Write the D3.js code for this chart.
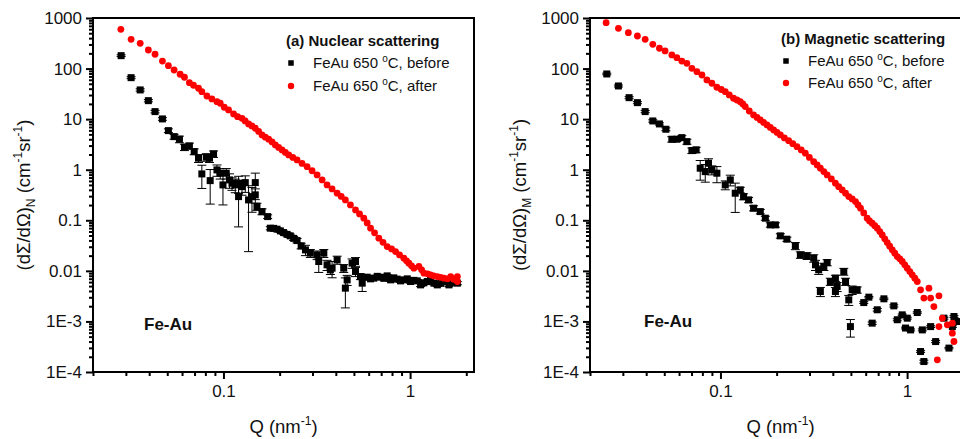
<!DOCTYPE html>
<html>
<head>
<meta charset="utf-8">
<script src="https://cdn.jsdelivr.net/npm/d3@7"></script>
<style>
  body { margin: 0; background: #fff; }
  svg { display: block; font-family: Arial, "Liberation Sans", sans-serif; }
</style>
</head>
<body>
<svg id="chart" width="960" height="439"></svg>
<script>
// tick labels
const yTickValues = [1e-4, 1e-3, 0.01, 0.1, 1, 10, 100, 1000];
const yTickLabels = ["1E-4", "1E-3", "0.01", "0.1", "1", "10", "100", "1000"];
const xTickValues = [0.1, 1];
const xTickLabels = ["0.1", "1"];

// [Q (nm^-1), dΣ/dΩ (cm^-1 sr^-1), error]
const nuclearBefore = [
  [0.0283, 180, 7], [0.0320, 66.1, 3], [0.0358, 37.8, 2], [0.0396, 23.2, 1.2],
  [0.0430, 14.1, 0.8], [0.0471, 10.1, 0.6], [0.0507, 5.93, 0.5], [0.0544, 4.51, 0.5],
  [0.0581, 4.01, 0.6], [0.0618, 2.79, 0.4], [0.0657, 2.95, 0.4], [0.0697, 2.28, 0.3],
  [0.0735, 1.69, 0.3], [0.0766, 0.826, 0.4], [0.0809, 1.77, 0.3], [0.0842, 1.69, 0.3],
  [0.0849, 0.609, 0.4], [0.0885, 2.05, 0.3], [0.0923, 0.991, 0.25], [0.0961, 0.853, 0.2],
  [0.0994, 0.501, 0.3], [0.1035, 0.853, 0.2], [0.1078, 0.629, 0.2], [0.1111, 0.541, 0.15],
  [0.1157, 0.501, 0.15], [0.1205, 0.541, 0.2], [0.1205, 0.294, 0.22], [0.1257, 0.463, 0.15],
  [0.1309, 0.556, 0.2], [0.1363, 0.253, 0.229], [0.1422, 0.294, 0.15], [0.1481, 0.556, 0.3],
  [0.1481, 0.318, 0.1], [0.1512, 0.187, 0.03], [0.1609, 0.1486, 0.02], [0.1725, 0.1183, 0.01],
  [0.1783, 0.0698, 0.005], [0.1857, 0.0692, 0.004], [0.1937, 0.0667, 0.004], [0.2018, 0.0617, 0.004],
  [0.210, 0.0571, 0.004], [0.2193, 0.0526, 0.004], [0.228, 0.0492, 0.004], [0.2378, 0.0439, 0.004],
  [0.248, 0.0397, 0.004], [0.2608, 0.0312, 0.004], [0.275, 0.0260, 0.006], [0.292, 0.0224, 0.004],
  [0.3175, 0.0207, 0.004], [0.345, 0.0224, 0.004], [0.324, 0.0153, 0.006], [0.359, 0.01315, 0.003],
  [0.382, 0.0113, 0.004], [0.4065, 0.0165, 0.003], [0.374, 0.01047, 0.002], [0.441, 0.0113, 0.002],
  [0.460, 0.00664, 0.0015], [0.450, 0.00455, 0.0027], [0.489, 0.0142, 0.003], [0.510, 0.0153, 0.003],
  [0.510, 0.0097, 0.002], [0.542, 0.00771, 0.001], [0.554, 0.00571, 0.0018], [0.589, 0.0075, 0.0005],
  [0.614, 0.00695, 0.0004], [0.639, 0.00718, 0.0004], [0.667, 0.00779, 0.0004], [0.694, 0.0075, 0.0004],
  [0.723, 0.00711, 0.0004], [0.754, 0.00796, 0.0004], [0.786, 0.00664, 0.0004], [0.818, 0.00727, 0.0004],
  [0.853, 0.00686, 0.0004], [0.889, 0.00634, 0.0004], [0.926, 0.00664, 0.0004], [0.966, 0.00695, 0.0004],
  [1.006, 0.00615, 0.0004], [1.048, 0.00649, 0.0004], [1.093, 0.00634, 0.0004], [1.138, 0.00528, 0.0004],
  [1.186, 0.00579, 0.0004], [1.236, 0.00615, 0.0004], [1.288, 0.00664, 0.0004], [1.342, 0.00571, 0.0004],
  [1.40, 0.00528, 0.0004], [1.458, 0.00566, 0.0004], [1.519, 0.00615, 0.0004], [1.615, 0.00528, 0.0004],
  [1.684, 0.00606, 0.0004], [1.718, 0.00587, 0.0004], [1.792, 0.00571, 0.0004]
];

const nuclearAfter = [
  [0.0282, 598], [0.0320, 379], [0.0358, 316], [0.0396, 233], [0.0430, 192], [0.0471, 141],
  [0.0507, 114], [0.0544, 93.8], [0.0586, 77.2], [0.0618, 67.3], [0.0657, 52.6], [0.0691, 46.8],
  [0.0735, 40.8], [0.0766, 35.0], [0.0815, 28.7], [0.0867, 25.1], [0.0923, 22.2], [0.0961, 20.6],
  [0.1010, 17.2], [0.1065, 15.2], [0.1133, 12.7], [0.1190, 11.2], [0.1257, 10.4], [0.1307, 9.21],
  [0.1363, 8.04], [0.1420, 7.34], [0.1481, 6.61], [0.1543, 5.71], [0.1609, 4.87], [0.1676, 4.39],
  [0.1746, 4.01], [0.1821, 3.54], [0.1897, 3.09], [0.1975, 2.76], [0.206, 2.46], [0.2146, 2.20],
  [0.2236, 1.96], [0.2354, 1.75], [0.248, 1.56], [0.2638, 1.332], [0.2806, 1.15], [0.2985, 0.955],
  [0.3175, 0.789], [0.3378, 0.629], [0.359, 0.50], [0.382, 0.4175], [0.4065, 0.343], [0.4276, 0.2967],
  [0.450, 0.253], [0.479, 0.2015], [0.510, 0.1605], [0.536, 0.1338], [0.565, 0.110], [0.589, 0.0888],
  [0.614, 0.0698], [0.645, 0.0564], [0.680, 0.0443], [0.716, 0.0366], [0.754, 0.0302], [0.796, 0.0272],
  [0.836, 0.0241], [0.878, 0.0207], [0.926, 0.0178], [0.957, 0.01576], [0.985, 0.0142], [1.018, 0.01256],
  [1.048, 0.0113], [1.115, 0.0122], [1.153, 0.01047], [1.186, 0.0090], [1.241, 0.00873], [1.288, 0.00834],
  [1.337, 0.00796], [1.40, 0.00772], [1.458, 0.00744], [1.519, 0.00718], [1.589, 0.00695], [1.650, 0.00772],
  [1.712, 0.00679], [1.792, 0.00772], [1.792, 0.00614]
];

const magneticBefore = [
  [0.0246, 78.2, 3], [0.0284, 45.3, 2], [0.0324, 26.6, 1.2], [0.0359, 21.2, 1], [0.0395, 14.1, 0.7],
  [0.0434, 9.21, 0.5], [0.0471, 8.04, 0.4], [0.0510, 6.31, 0.4], [0.0549, 4.01, 0.5], [0.0584, 4.01, 0.4],
  [0.0621, 4.31, 0.4], [0.0661, 3.59, 0.4], [0.0703, 2.39, 0.3], [0.0741, 2.47, 0.3], [0.0779, 1.071, 0.45],
  [0.0829, 0.917, 0.35], [0.0863, 1.345, 0.3], [0.0900, 0.991, 0.2], [0.0957, 0.853, 0.3], [0.1061, 0.501, 0.1],
  [0.1129, 0.629, 0.15], [0.120, 0.343, 0.2], [0.1277, 0.399, 0.05], [0.133, 0.294, 0.04], [0.1415, 0.253, 0.03],
  [0.1505, 0.1734, 0.02], [0.1635, 0.1486, 0.015], [0.174, 0.110, 0.01], [0.185, 0.0811, 0.008], [0.197, 0.0811, 0.008],
  [0.2094, 0.0492, 0.005], [0.227, 0.0423, 0.004], [0.252, 0.0312, 0.005], [0.268, 0.0207, 0.003], [0.291, 0.0198, 0.003],
  [0.316, 0.0178, 0.003], [0.323, 0.01315, 0.003], [0.336, 0.0105, 0.002], [0.358, 0.01216, 0.002], [0.373, 0.0146, 0.002],
  [0.343, 0.0039, 0.0008], [0.388, 0.00615, 0.001], [0.413, 0.00718, 0.001], [0.422, 0.0049, 0.001], [0.413, 0.0039, 0.0008],
  [0.458, 0.0097, 0.0015], [0.468, 0.00615, 0.001], [0.487, 0.00267, 0.0006], [0.508, 0.00421, 0.0008], [0.540, 0.00421, 0.0006],
  [0.497, 0.00079, 0.0003], [0.586, 0.00236, 0.0001], [0.624, 0.00302, 0.0001], [0.650, 0.000925, 0.00005], [0.692, 0.0017, 0.0001],
  [0.751, 0.0028, 0.0001], [0.849, 0.00203, 0.0001], [0.886, 0.00108, 0.00005], [0.942, 0.00135, 0.00005], [1.002, 0.00116, 0.00005],
  [0.981, 0.00074, 0.00003], [1.044, 0.00068, 0.00003], [1.134, 0.0015, 0.00005], [1.181, 0.000254, 0.00001], [1.230, 0.000161, 0.00001],
  [1.207, 0.00068, 0.00003], [1.337, 0.00079, 0.00003], [1.422, 0.0004, 0.00002], [1.576, 0.00116, 0.00005], [1.676, 0.000297, 0.00001],
  [1.748, 0.00079, 0.00003], [1.859, 0.000995, 0.00004], [1.783, 0.00125, 0.00005]
];

const magneticAfter = [
  [0.0244, 807], [0.0284, 626], [0.0321, 512], [0.0359, 441], [0.0395, 379], [0.0434, 302],
  [0.0471, 252], [0.0505, 223], [0.0549, 186], [0.0584, 164], [0.0621, 141], [0.0661, 127],
  [0.0703, 101], [0.0748, 86.8], [0.0796, 74.7], [0.0846, 59.5], [0.0900, 51.2], [0.0957, 42.7],
  [0.1010, 38.6], [0.1061, 35.0], [0.1115, 30.1], [0.1175, 25.9], [0.1226, 23.9], [0.1277, 22.2],
  [0.1317, 20.0], [0.1358, 17.7], [0.1427, 14.5], [0.1505, 12.1], [0.157, 10.8], [0.1635, 9.64],
  [0.1703, 8.61], [0.1776, 7.68], [0.185, 6.86], [0.1927, 6.12], [0.201, 5.46], [0.2094, 4.87],
  [0.22, 4.25], [0.232, 3.76], [0.244, 3.28], [0.257, 2.86], [0.271, 2.46], [0.285, 2.12],
  [0.2996, 1.75], [0.316, 1.445], [0.3296, 1.245], [0.343, 1.071], [0.358, 0.917], [0.373, 0.789],
  [0.393, 0.658], [0.413, 0.541], [0.430, 0.463], [0.449, 0.399], [0.468, 0.343], [0.487, 0.294],
  [0.508, 0.265], [0.529, 0.234], [0.546, 0.2015], [0.563, 0.1734], [0.586, 0.140], [0.611, 0.110],
  [0.629, 0.0973], [0.650, 0.0877], [0.671, 0.0782], [0.692, 0.0698], [0.714, 0.0598], [0.736, 0.0514],
  [0.759, 0.0429], [0.783, 0.0362], [0.807, 0.0308], [0.833, 0.0260], [0.859, 0.0224], [0.886, 0.0192],
  [0.914, 0.01727], [0.942, 0.0153], [0.972, 0.01315], [1.002, 0.0113], [1.034, 0.0097], [1.066, 0.00834],
  [1.10, 0.00718], [1.134, 0.00615], [1.181, 0.00421], [1.309, 0.00455], [1.230, 0.00289], [1.337, 0.00289],
  [1.481, 0.00321], [1.392, 0.00197], [1.545, 0.00116], [1.481, 0.00079], [1.643, 0.000857], [1.748, 0.000925],
  [1.748, 0.000587], [1.452, 0.000174], [1.783, 0.000401]
];

const panels = [
  { left: 93, before: nuclearBefore, after: nuclearAfter, sub: "N", title: "(a) Nuclear scattering",
    titleX: 193, titleY: 46, legX: 198, legTextX: 220, legY: [63, 86], legTextY: [68, 91],
    yLabelX: 30, feAuX: 51, feAuY: 330 },
  { left: 590, before: magneticBefore, after: magneticAfter, sub: "M", title: "(b) Magnetic scattering",
    titleX: 191, titleY: 44, legX: 196, legTextX: 218, legY: [61, 83], legTextY: [66, 88],
    yLabelX: 526, feAuX: 54, feAuY: 327 }
];

const plotTop = 18, plotW = 381, plotH = 354;
const svg = d3.select("#chart");

function isDecade(v) {
  const l = Math.log10(v);
  return Math.abs(l - Math.round(l)) < 1e-9;
}

panels.forEach(p => {
  const g = svg.append("g").attr("transform", `translate(${p.left},${plotTop})`);

  const x = d3.scaleLog().domain([0.02, 2.2]).range([0, plotW]);
  const y = d3.scaleLog().domain([1e-4, 1000]).range([plotH, 0]);

  // ось x
  const gx = g.append("g")
    .attr("transform", `translate(0,${plotH})`)
    .call(d3.axisBottom(x).tickValues(x.ticks()).tickFormat(d => {
      const i = xTickValues.findIndex(v => Math.abs(v - d) < 1e-9);
      return i >= 0 ? xTickLabels[i] : "";
    }));
  gx.select(".domain").remove();
  gx.selectAll(".tick line").attr("y2", d => isDecade(d) ? 7 : 4).attr("stroke-width", 2);
  gx.selectAll(".tick text").attr("y", 13).style("font-size", "17px").style("fill", "#111");

  // ось y
  const gy = g.append("g")
    .call(d3.axisLeft(y).tickValues(y.ticks()).tickFormat(d => {
      const i = yTickValues.findIndex(v => Math.abs(Math.log10(v) - Math.log10(d)) < 1e-9);
      return i >= 0 ? yTickLabels[i] : "";
    }));
  gy.select(".domain").remove();
  gy.selectAll(".tick line").attr("x2", d => isDecade(d) ? -7 : -4).attr("stroke-width", 2);
  gy.selectAll(".tick text").attr("x", -11).style("font-size", "17px").style("fill", "#111");

  // рамка
  g.append("rect")
    .attr("x", 0).attr("y", 0).attr("width", plotW).attr("height", plotH)
    .attr("fill", "none").attr("stroke", "#000").attr("stroke-width", 2);

  // планки погрешностей
  const err = g.append("g").attr("stroke", "#000").attr("stroke-width", 1);
  p.before.forEach(d => {
    const cx = x(d[0]);
    const hi = y(d[1] + d[2]);
    const lo = d[1] - d[2] > 1e-4 ? y(d[1] - d[2]) : plotH;
    err.append("line").attr("x1", cx).attr("x2", cx).attr("y1", hi).attr("y2", lo);
    err.append("line").attr("x1", cx - 4.5).attr("x2", cx + 4.5).attr("y1", hi).attr("y2", hi);
    err.append("line").attr("x1", cx - 4.5).attr("x2", cx + 4.5).attr("y1", lo).attr("y2", lo);
  });

  g.selectAll(".sq")
    .data(p.before)
    .enter()
    .append("rect")
    .attr("class", "sq")
    .attr("x", d => x(d[0]) - 3.5)
    .attr("y", d => y(d[1]) - 3.5)
    .attr("width", 7)
    .attr("height", 7)
    .attr("fill", "#000");

  g.selectAll(".dot")
    .data(p.after)
    .enter()
    .append("circle")
    .attr("class", "dot")
    .attr("cx", d => x(d[0]))
    .attr("cy", d => y(d[1]))
    .attr("r", 3.4)
    .attr("fill", "#ff0000");

  // легенда
  g.append("text")
    .attr("x", p.titleX).attr("y", p.titleY - plotTop)
    .style("font-size", "15px").style("font-weight", "bold").style("fill", "#111")
    .text(p.title);

  g.append("rect")
    .attr("x", p.legX - 2.75).attr("y", p.legY[0] - plotTop - 2.75)
    .attr("width", 5.5).attr("height", 5.5).attr("fill", "#000");
  g.append("circle")
    .attr("cx", p.legX).attr("cy", p.legY[1] - plotTop).attr("r", 3.2).attr("fill", "#ff0000");

  ["before", "after"].forEach((s, i) => {
    const t = g.append("text")
      .attr("x", p.legTextX).attr("y", p.legTextY[i] - plotTop)
      .style("font-size", "15px").style("fill", "#111");
    t.append("tspan").text("FeAu 650 ");
    t.append("tspan").attr("dy", -6).style("font-size", "10px").text("o");
    t.append("tspan").attr("dy", 6).text("C, " + s);
  });

  g.append("text")
    .attr("x", p.feAuX).attr("y", p.feAuY - plotTop)
    .style("font-size", "17px").style("font-weight", "bold").style("fill", "#111")
    .text("Fe-Au");

  // подпись оси x
  const xt = g.append("text")
    .attr("x", plotW / 2).attr("y", 433 - plotTop)
    .attr("text-anchor", "middle")
    .style("font-size", "18.5px").style("fill", "#111");
  xt.append("tspan").text("Q (nm");
  xt.append("tspan").attr("dy", -8).style("font-size", "12px").text("-1");
  xt.append("tspan").attr("dy", 8).text(")");

  // подпись оси y
  const yt = g.append("text")
    .attr("transform", `translate(${p.yLabelX - p.left},${plotH / 2}) rotate(-90)`)
    .attr("text-anchor", "middle")
    .style("font-size", "18.5px").style("fill", "#111");
  yt.append("tspan").text("(d\u03A3/d\u03A9)");
  yt.append("tspan").attr("dy", 5).style("font-size", "12px").text(p.sub);
  yt.append("tspan").attr("dy", -5).text(" (cm");
  yt.append("tspan").attr("dy", -8).style("font-size", "12px").text("-1");
  yt.append("tspan").attr("dy", 8).text("sr");
  yt.append("tspan").attr("dy", -8).style("font-size", "12px").text("-1");
  yt.append("tspan").attr("dy", 8).text(")");
});
</script>
</body>
</html>
